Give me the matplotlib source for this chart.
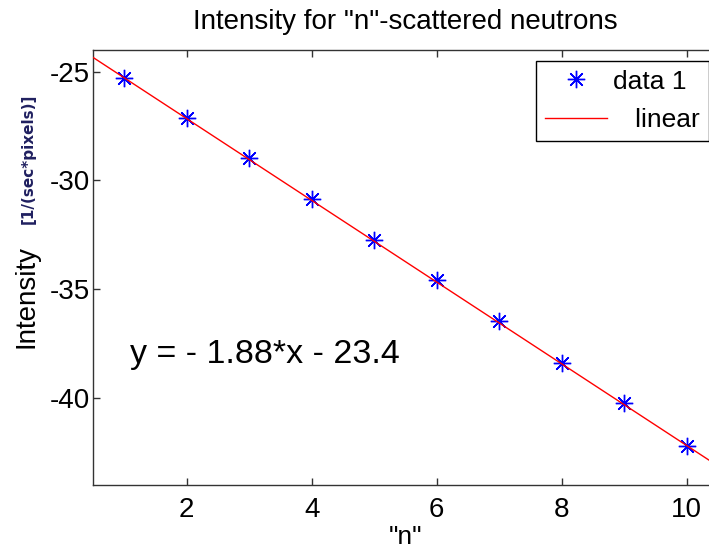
import numpy as np
import matplotlib
matplotlib.use("Agg")
import matplotlib.pyplot as plt

# ---- data ----
n_values = [1, 2, 3, 4, 5, 6, 7, 8, 9, 10]
intensity = [-25.27, -27.12, -28.98, -30.84, -32.72, -34.60, -36.47, -38.41, -40.22, -42.20]
fit_slope = -1.88
fit_intercept = -23.4
x_ticks = [2, 4, 6, 8, 10]
y_ticks = [-40, -35, -30, -25]
x_limits = [0.5, 10.5]
y_limits = [-44, -24]
title_text = 'Intensity for "n"-scattered neutrons'
xlabel_text = '"n"'
ylabel_main = 'Intensity'
ylabel_unit = '[1/(sec*pixels)]'
legend_labels = ['data 1', '   linear']
equation_text = 'y = - 1.88*x - 23.4'

W, H = 709, 549
FONT = 'Liberation Sans'
plt.rcParams['font.family'] = [FONT, 'DejaVu Sans']
plt.rcParams['axes.unicode_minus'] = False

fig = plt.figure(figsize=(W / 100, H / 100), dpi=100)
fig.patch.set_facecolor('white')

ax_left, ax_right, ax_top, ax_bottom = 93, 718, 50, 484.7
ax = fig.add_axes([ax_left / W, 1 - ax_bottom / H, (ax_right - ax_left) / W, (ax_bottom - ax_top) / H])

ax.plot(n_values, intensity, linestyle='none', marker=(8, 2, 0), markersize=12.5,
        markeredgewidth=1.0, color='#0000ff', label=legend_labels[0], zorder=2)

fx = np.array(x_limits)
fy = fit_slope * fx + fit_intercept
ax.plot(fx, fy, color='#ff0000', linewidth=1.0, label=legend_labels[1], zorder=3)

ax.set_xlim(x_limits)
ax.set_ylim(y_limits)
ax.set_xticks(x_ticks)
ax.set_yticks(y_ticks)

spine_color = '#333333'
for s in ax.spines.values():
    s.set_color(spine_color)
    s.set_linewidth(1.0)

ax.tick_params(axis='both', direction='in', length=5, width=1.0, color=spine_color,
               labelsize=20, top=True, right=True)
ax.tick_params(axis='x', pad=9)
ax.tick_params(axis='y', pad=2)

ax.set_title(title_text, fontsize=20, pad=15)
ax.set_xlabel(xlabel_text, fontsize=19, va='baseline')
ax.xaxis.set_label_coords(0.5, -(544 - ax_bottom) / (ax_bottom - ax_top))

fig.text(33 / W, 1 - 296 / H, ylabel_main, rotation=90, rotation_mode='anchor',
         ha='center', va='baseline', fontsize=20)
fig.text(33 / W, 1 - 159 / H, ylabel_unit, rotation=90, rotation_mode='anchor',
         ha='center', va='baseline', fontsize=11, fontweight='bold',
         color='#202060', family='DejaVu Sans')

ax.text(1.1, -38.4, equation_text, fontsize=24.5, ha='left', va='baseline')

leg = ax.legend(loc='upper left', bbox_to_anchor=(536 / W, 1 - 61 / H),
                bbox_transform=fig.transFigure, borderaxespad=0, fontsize=19,
                frameon=True, fancybox=False, framealpha=1, edgecolor='black',
                handlelength=2.35, handletextpad=0.25, borderpad=0.33, labelspacing=0.55)
leg.get_frame().set_linewidth(1.0)

fig.savefig('out.png', dpi=100, facecolor='white')
